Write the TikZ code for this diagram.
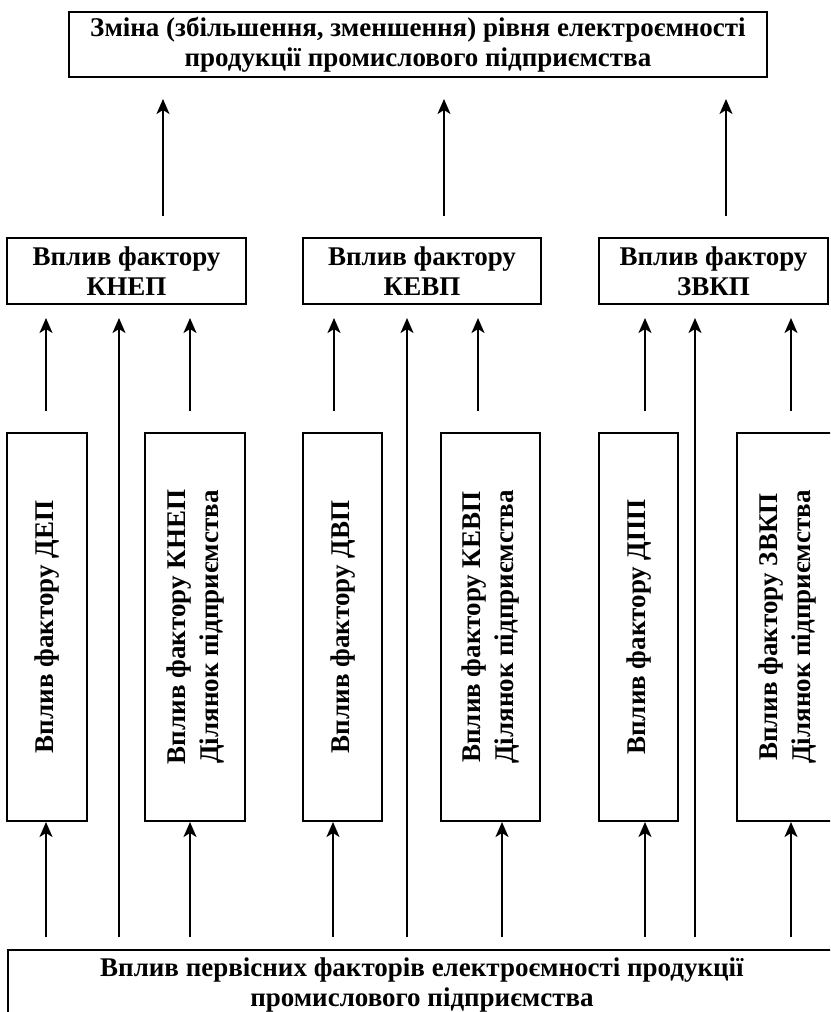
\documentclass[tikz,border=0pt]{standalone}
\usepackage{fontspec}
\setmainfont{Liberation Serif}
\usepackage{graphicx}
\usetikzlibrary{arrows.meta}
\tikzset{
  frame/.style   = { draw, rectangle, line width=2pt, inner sep=0pt, align=center,
                     font=\bfseries\fontsize{27}{30}\selectfont },
  tall/.style    = { frame, minimum width=#1, minimum height=388pt },
  up/.style      = { line width=2pt, -{Stealth[length=15pt,width=13pt,inset=4pt]} },
  up_long/.style = { up, shorten <=21pt, shorten >=21pt },
  up_mid/.style  = { up, shorten <=21pt, shorten >=13pt },
  up_low/.style  = { up, shorten <=12pt }
}
\newcommand{\vtext}[1]{\rotatebox{90}{\renewcommand{\arraystretch}{1.1}\begin{tabular}{@{}c@{}}#1\end{tabular}}}

\begin{document}
\begin{tikzpicture}[x=1pt,y=-1pt]
  \clip (0,0) rectangle (830,1012);
  \useasboundingbox (0,0) rectangle (830,1012);

  % Draw all levels
  \node[frame, minimum width=698pt, minimum height=65pt] (result) at (418,44.5)
    {Зміна (збільшення, зменшення) рівня електроємності\\продукції промислового підприємства};

  \node[frame, minimum width=239pt, minimum height=66pt] (knep) at (126.5,271) {Вплив фактору\\КНЕП};
  \node[frame, minimum width=238pt, minimum height=66pt] (kevp) at (422,271)   {Вплив фактору\\КЕВП};
  \node[frame, minimum width=229pt, minimum height=66pt] (zvkp) at (713.5,271) {Вплив фактору\\ЗВКП};

  \node[tall=80pt]  (dep)    at (47,627)    {\vtext{Вплив фактору ДЕП}};
  \node[tall=100pt] (knep_d) at (195,627)   {\vtext{Вплив фактору КНЕП\\Ділянок підприємства}};
  \node[tall=79pt]  (dvp)    at (342.5,627) {\vtext{Вплив фактору ДВП}};
  \node[tall=99pt]  (kevp_d) at (490.5,627) {\vtext{Вплив фактору КЕВП\\Ділянок підприємства}};
  \node[tall=79pt]  (dpp)    at (638.5,627) {\vtext{Вплив фактору ДПП}};
  \node[tall=100pt] (zvkp_d) at (787,627)   {\vtext{Вплив фактору ЗВКП\\Ділянок підприємства}};

  \node[frame, minimum width=828pt, minimum height=70pt] (base) at (422,985)
    {Вплив первісних факторів електроємності продукції\\промислового підприємства};

  % Draw connections
  \draw[up_long] ([xshift=36.5pt]knep.north) -- ([xshift=36.5pt]knep.north |- result.south);
  \draw[up_long] ([xshift=22pt]kevp.north)   -- ([xshift=22pt]kevp.north |- result.south);
  \draw[up_long] ([xshift=12.5pt]zvkp.north) -- ([xshift=12.5pt]zvkp.north |- result.south);

  \draw[up_mid] ([xshift=-1pt]dep.north)      -- ([xshift=-1pt]dep.north |- knep.south);
  \draw[up_mid] ([xshift=-5pt]knep_d.north)   -- ([xshift=-5pt]knep_d.north |- knep.south);
  \draw[up_mid] ([xshift=-8.5pt]dvp.north)    -- ([xshift=-8.5pt]dvp.north |- kevp.south);
  \draw[up_mid] ([xshift=-12.5pt]kevp_d.north) -- ([xshift=-12.5pt]kevp_d.north |- kevp.south);
  \draw[up_mid] ([xshift=6.5pt]dpp.north)     -- ([xshift=6.5pt]dpp.north |- zvkp.south);
  \draw[up_mid] ([xshift=4pt]zvkp_d.north)    -- ([xshift=4pt]zvkp_d.north |- zvkp.south);

  \draw[up_low, shorten >=13pt] ([xshift=-7.5pt]knep.south |- base.north) -- ([xshift=-7.5pt]knep.south);
  \draw[up_low, shorten >=13pt] ([xshift=-15pt]kevp.south |- base.north)  -- ([xshift=-15pt]kevp.south);
  \draw[up_low, shorten >=13pt] ([xshift=-18.5pt]zvkp.south |- base.north) -- ([xshift=-18.5pt]zvkp.south);

  \draw[up_low] ([xshift=-1pt]dep.south |- base.north)      -- ([xshift=-1pt]dep.south);
  \draw[up_low] ([xshift=-5pt]knep_d.south |- base.north)   -- ([xshift=-5pt]knep_d.south);
  \draw[up_low] ([xshift=-9.5pt]dvp.south |- base.north)    -- ([xshift=-9.5pt]dvp.south);
  \draw[up_low] ([xshift=11.5pt]kevp_d.south |- base.north) -- ([xshift=11.5pt]kevp_d.south);
  \draw[up_low] ([xshift=6.5pt]dpp.south |- base.north)     -- ([xshift=6.5pt]dpp.south);
  \draw[up_low] ([xshift=4pt]zvkp_d.south |- base.north)    -- ([xshift=4pt]zvkp_d.south);
\end{tikzpicture}
\end{document}
